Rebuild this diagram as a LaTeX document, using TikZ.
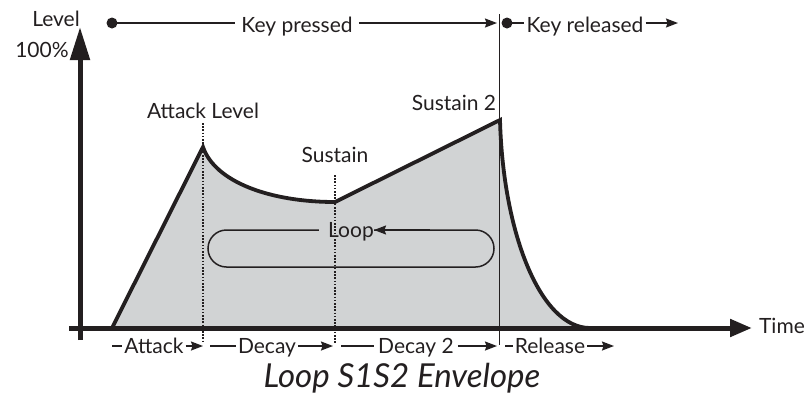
\documentclass[tikz,border=0pt]{standalone}
\usepackage{fontspec}
\setmainfont{Lato}
\usetikzlibrary{arrows.meta,calc}
\definecolor{envgray}{RGB}{209,211,212}
\definecolor{ink}{RGB}{35,31,32}
\begin{document}
\begin{tikzpicture}[x=1pt,y=-1pt,
  lbl/.style={font=\fontsize{21}{23}\selectfont, text=ink, inner xsep=2pt, inner ysep=0pt, anchor=base},
  captext/.style={font=\fontsize{33}{36}\selectfont\itshape, text=ink, inner sep=0pt, anchor=base},
  thinline/.style={draw=ink, line width=1.5pt},
  arr/.style={thinline, -{Stealth[length=12pt,width=9pt,inset=1.5pt]}},
  env/.style={draw=ink, line width=3.8pt, line join=miter},
  axis/.style={draw=ink, line width=5pt},
  dots/.style={draw=ink, line width=1.6pt, dash pattern=on 1.6pt off 1.6pt},
  bullet/.style={fill=ink}]
\useasboundingbox (0,0) rectangle (807,397);

% filled envelope
\path[fill=envgray] (112,328) -- (203,147)
  .. controls (215,182) and (270,202) .. (335,202)
  -- (500,120)
  .. controls (503,232) and (540,328) .. (590,328) -- cycle;

% loop box
\draw[thinline, rounded corners=18.5pt] (208,230) rectangle (494,267);
\node[lbl, fill=envgray, inner xsep=0pt, inner ysep=1pt] (loop) at (346.5,237) {\hspace{9pt}Loop\hspace{3pt}};
\coordinate (loopR) at (430,230);
\draw[arr] (loopR) -- (loopR -| loop.east);

% dotted verticals
\coordinate (d1t) at (203,123); \coordinate (d1b) at (203,343);
\coordinate (d2t) at (335,175); \coordinate (d2b) at (335,343);
\draw[dots] (d1t) -- (d1b);
\draw[dots] (d2t) -- (d2b);
% release line
\coordinate (rt) at (499.5,14); \coordinate (rb) at (499.5,345);
\draw[draw=ink, line width=1.2pt] (rt) -- (rb);

% envelope outline
\draw[env] (112,328) -- (203,147)
  .. controls (215,182) and (270,202) .. (335,202)
  -- (500,120)
  .. controls (503,232) and (540,328) .. (590,328);

% axes
\coordinate (yb) at (80,340); \coordinate (yt) at (80,27);
\coordinate (xl) at (69,328); \coordinate (xr) at (752,328);
\draw[axis, -{Triangle[length=33pt,width=19pt]}] (yb) -- (yt);
\draw[axis, -{Triangle[length=22pt,width=17pt]}] (xl) -- (xr);

% axis labels
\node[lbl] (level) at (56,26) {Level};
\node[lbl] (full) at (42,57) {100\%};
\node[lbl] (time) at (782,333) {Time};

% top bar
\coordinate (kpd) at (112,23);
\node[lbl, inner xsep=6pt] (kp) at (297,32) {Key pressed};
\coordinate (kpend) at (497,23);
\draw[thinline] (kpd) -- (kpd -| kp.west);
\fill[bullet] (kpd) circle[radius=5.5pt];
\draw[arr] (kpend -| kp.east) -- (kpend);
\coordinate (krd) at (507,23);
\node[lbl] (kr) at (585,32) {Key released};
\coordinate (krend) at (678,23);
\draw[thinline] (krd) -- (krd -| kr.west);
\fill[bullet] (krd) circle[radius=5.5pt];
\draw[arr] (krend -| kr.east) -- (krend);

% point labels
\node[lbl] (al) at (203,118) {Attack Level};
\node[lbl] (sus) at (335,162) {Sustain};
\node[lbl] (sus2) at (454,110) {Sustain 2};

% bottom segments
\coordinate (s0) at (112,346);
\coordinate (s1) at (203,346);
\coordinate (s1b) at (210,346);
\coordinate (s2) at (333,346);
\coordinate (s2b) at (341,346);
\coordinate (s3) at (497,346);
\coordinate (s3b) at (505,346);
\coordinate (s4) at (614,346);
\node[lbl] (ta) at (154,353) {Attack};
\node[lbl] (td) at (267,353) {Decay};
\node[lbl, inner xsep=4pt] (td2) at (416,353) {Decay 2};
\node[lbl] (tr) at (550,353) {Release};
\draw[thinline] (s0) -- (s0 -| ta.west);
\draw[arr] (s0 -| ta.east) -- (s1);
\draw[thinline] (s1b) -- (s1b -| td.west);
\draw[arr] (s1b -| td.east) -- (s2);
\draw[thinline] (s2b) -- (s2b -| td2.west);
\draw[arr] (s2b -| td2.east) -- (s3);
\draw[thinline] (s3b) -- (s3b -| tr.west);
\draw[arr] (s3b -| tr.east) -- (s4);

% caption
\node[captext] (caption) at (402,387) {Loop S1S2 Envelope};
\end{tikzpicture}
\end{document}
